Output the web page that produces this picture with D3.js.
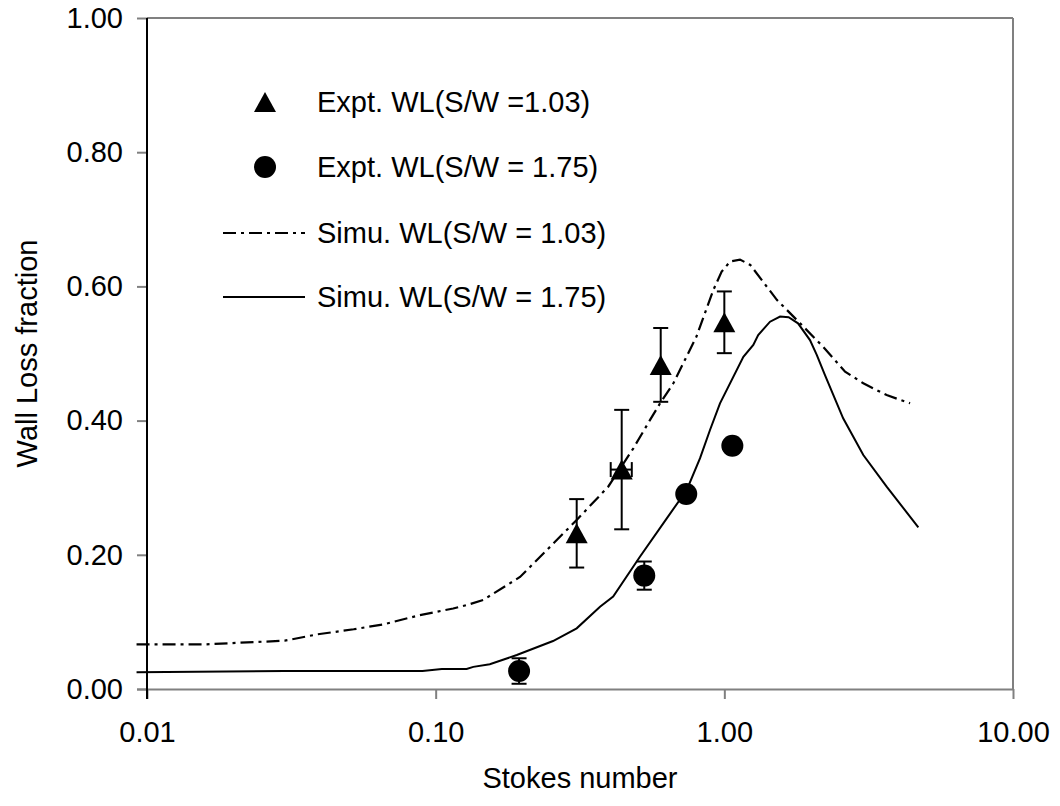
<!DOCTYPE html>
<html><head><meta charset="utf-8">
<script src="https://cdn.jsdelivr.net/npm/d3@7"></script>
<style>body{margin:0;background:#fff}svg text{font-family:"Liberation Sans",Arial,sans-serif;fill:#000}</style>
</head><body><svg id="c" width="1060" height="806"></svg>
<script>
// Simulated curves
const simu103X = [0.0092,0.016,0.03,0.039,0.052,0.066,0.088,0.115,0.128,0.146,0.196,0.256,0.308,0.396,0.484,0.553,0.599,0.666,0.80,0.916,0.979,1.047,1.133,1.23,1.52,1.83,2.20,2.62,3.03,3.65,4.40];
const simu103Y = [0.0666,0.0666,0.072,0.0815,0.089,0.0964,0.110,0.120,0.125,0.1326,0.167,0.217,0.252,0.3015,0.3587,0.401,0.4258,0.4556,0.525,0.5946,0.622,0.637,0.640,0.632,0.580,0.545,0.510,0.473,0.4556,0.438,0.4258];
const simu175X = [0.0092,0.03,0.09,0.105,0.128,0.135,0.154,0.191,0.255,0.308,0.371,0.412,0.51,0.631,0.741,0.824,0.892,0.966,1.164,1.26,1.31,1.44,1.56,1.67,1.80,1.98,2.09,2.23,2.58,3.03,3.65,4.70];
const simu175Y = [0.0249,0.027,0.027,0.0298,0.0298,0.033,0.0368,0.0507,0.0715,0.0904,0.1227,0.1376,0.197,0.254,0.2966,0.344,0.386,0.4258,0.495,0.5127,0.5276,0.5474,0.555,0.554,0.545,0.520,0.498,0.468,0.4034,0.3487,0.3015,0.241];
// Experimental points
const expt103X = [0.308,0.441,0.602,1.00];
const expt103Y = [0.232,0.327,0.483,0.5465];
const expt103Err = [0.051,0.089,0.055,0.046];
const expt103XErr = [0,0.037,0,0];
const expt175X = [0.1945,0.528,0.738,1.066];
const expt175Y = [0.0268,0.169,0.2906,0.3626];
const expt175Err = [0.019,0.021,0,0];
const xTicks = [0.01,0.1,1,10];
const yTicks = [0,0.2,0.4,0.6,0.8,1.0];
const legendLabels = ["Expt. WL(S/W =1.03)","Expt. WL(S/W = 1.75)","Simu. WL(S/W = 1.03)","Simu. WL(S/W = 1.75)"];

const svg = d3.select("#c");
const L=147,R=1013,T=18,B=689;
const x = d3.scaleLog().domain([0.01,10]).range([L,R]);
const y = d3.scaleLinear().domain([0,1]).range([B,T]);
const gray="#808080";

// frame
svg.append("line").attr("x1",L).attr("x2",R).attr("y1",T).attr("y2",T).attr("stroke",gray).attr("stroke-width",2);
svg.append("line").attr("x1",R).attr("x2",R).attr("y1",T).attr("y2",B).attr("stroke",gray).attr("stroke-width",2);

// y axis
const ya = svg.append("g").attr("transform",`translate(${L},0)`)
  .call(d3.axisLeft(y).tickValues(yTicks).tickFormat(d3.format(".2f")).tickSize(10).tickPadding(14));
ya.select(".domain").remove();
ya.selectAll(".tick line").attr("stroke",gray).attr("stroke-width",2);
ya.selectAll("text").style("font-size","29px");
// x axis
const xa = svg.append("g").attr("transform",`translate(0,${B})`)
  .call(d3.axisBottom(x).tickValues(xTicks).tickFormat(d3.format(".2f")).tickSize(10).tickPadding(22));
xa.select(".domain").attr("stroke",gray).attr("stroke-width",2).attr("d",`M${L-10},0.5H${R}`);
xa.selectAll(".tick line").attr("stroke",gray).attr("stroke-width",2);
xa.selectAll("text").style("font-size","29px");
svg.append("line").attr("x1",L).attr("x2",L).attr("y1",T).attr("y2",B+10).attr("stroke","#000").attr("stroke-width",2);

// titles
svg.append("text").attr("x",(L+R)/2).attr("y",788).attr("text-anchor","middle").style("font-size","29px").text("Stokes number");
svg.append("text").attr("transform",`translate(37,${(T+B)/2}) rotate(-90)`).attr("text-anchor","middle").style("font-size","29px").text("Wall Loss fraction");

// lines
const line = d3.line().x(d=>x(d[0])).y(d=>y(d[1]));
svg.append("path").datum(simu103X.map((v,i)=>[v,simu103Y[i]])).attr("d",line).attr("fill","none").attr("stroke","#000").attr("stroke-width",2.2).attr("stroke-dasharray","13,5,3,5");
svg.append("path").datum(simu175X.map((v,i)=>[v,simu175Y[i]])).attr("d",line).attr("fill","none").attr("stroke","#000").attr("stroke-width",2);

// error bars
const cap=7.5;
function errBars(xs,ys,es){
  xs.forEach((v,i)=>{
    if(!es[i]) return;
    const px=x(v),y1=y(ys[i]+es[i]),y2=y(ys[i]-es[i]);
    const g=svg.append("g").attr("stroke","#000").attr("stroke-width",2);
    g.append("line").attr("x1",px).attr("x2",px).attr("y1",y1).attr("y2",y2);
    g.append("line").attr("x1",px-cap).attr("x2",px+cap).attr("y1",y1).attr("y2",y1);
    g.append("line").attr("x1",px-cap).attr("x2",px+cap).attr("y1",y2).attr("y2",y2);
  });
}
errBars(expt103X,expt103Y,expt103Err);
errBars(expt175X,expt175Y,expt175Err);
expt103X.forEach((v,i)=>{
  if(!expt103XErr[i]) return;
  const py=y(expt103Y[i]),x1=x(v-expt103XErr[i]),x2=x(v+expt103XErr[i]);
  const g=svg.append("g").attr("stroke","#000").attr("stroke-width",2);
  g.append("line").attr("x1",x1).attr("x2",x2).attr("y1",py).attr("y2",py);
  g.append("line").attr("x1",x1).attr("x2",x1).attr("y1",py-cap).attr("y2",py+cap);
  g.append("line").attr("x1",x2).attr("x2",x2).attr("y1",py-cap).attr("y2",py+cap);
});

// markers
const tri = (cx,cy)=>`M${cx},${cy-10}L${cx+11},${cy+10}L${cx-11},${cy+10}Z`;
expt103X.forEach((v,i)=>svg.append("path").attr("d",tri(x(v),y(expt103Y[i]))).attr("fill","#000"));
expt175X.forEach((v,i)=>svg.append("circle").attr("cx",x(v)).attr("cy",y(expt175Y[i])).attr("r",11).attr("fill","#000"));

// legend
const lgY=[102,167,233,297];
svg.append("path").attr("d",tri(265,lgY[0])).attr("fill","#000");
svg.append("circle").attr("cx",265).attr("cy",lgY[1]).attr("r",11).attr("fill","#000");
svg.append("line").attr("x1",223).attr("x2",305).attr("y1",lgY[2]).attr("y2",lgY[2]).attr("stroke","#000").attr("stroke-width",2.2).attr("stroke-dasharray","13,5,3,5");
svg.append("line").attr("x1",223).attr("x2",305).attr("y1",lgY[3]).attr("y2",lgY[3]).attr("stroke","#000").attr("stroke-width",2);
legendLabels.forEach((t,i)=>svg.append("text").attr("x",317).attr("y",lgY[i]).attr("dy","0.35em").style("font-size","29px").text(t));
</script></body></html>
